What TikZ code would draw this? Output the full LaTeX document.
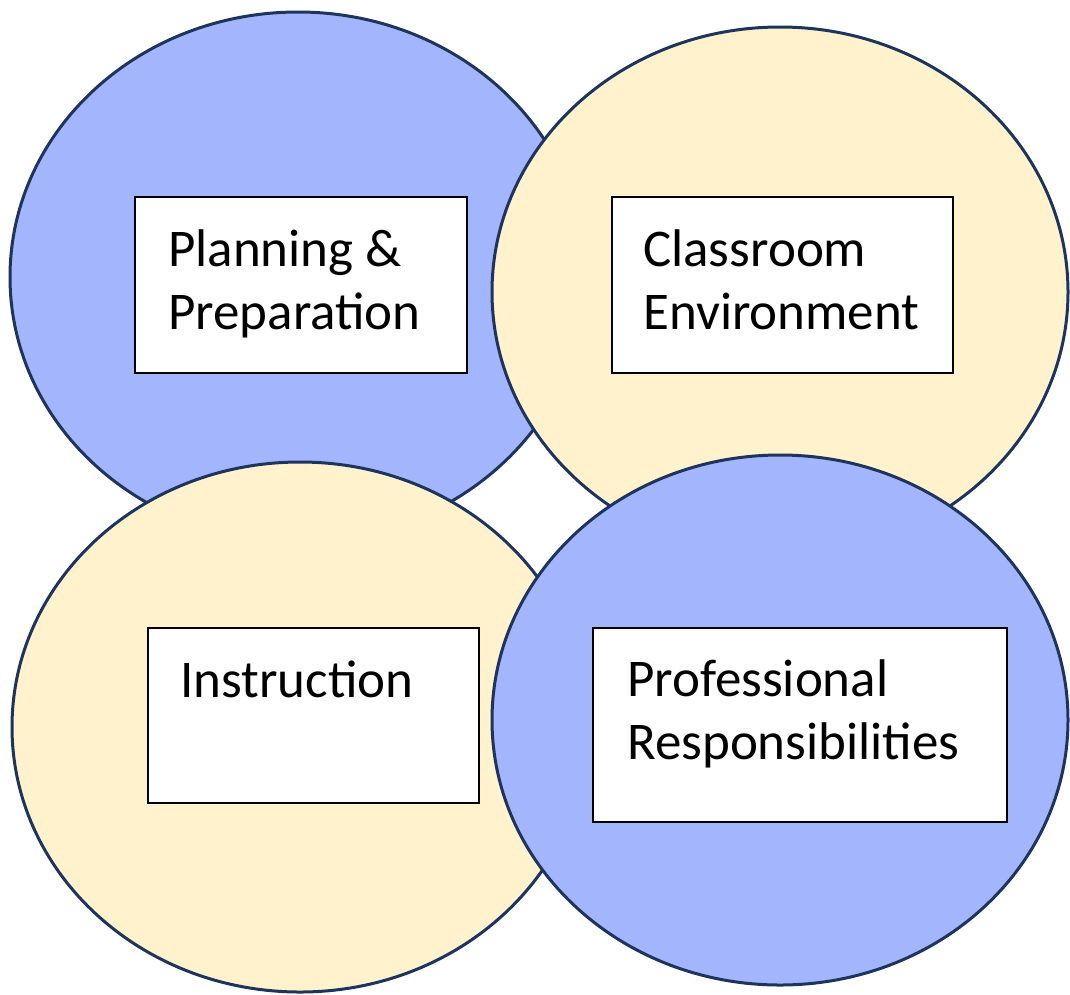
\documentclass[tikz,border=0pt]{standalone}
\usepackage{fontspec}
\setmainfont{Carlito}
\usetikzlibrary{shapes.geometric}
\definecolor{ringblue}{RGB}{163,181,252}
\definecolor{ringgold}{RGB}{255,242,204}
\definecolor{ringline}{RGB}{30,52,92}
\tikzset{
  ring/.style={ellipse, draw=ringline, line width=3pt, minimum width=576pt, minimum height=530pt, inner sep=0pt},
  bluering/.style={ring, fill=ringblue},
  goldring/.style={ring, fill=ringgold},
  labelbox/.style={rectangle, draw=black, line width=2pt, fill=white, inner sep=0pt},
  labeltext/.style={anchor=base west, inner sep=0pt, font=\fontsize{53pt}{63pt}\selectfont, text=black}
}
\begin{document}
\begin{tikzpicture}[x=1pt,y=-1pt]
\useasboundingbox (0,0) rectangle (1070,994);
\fill[white] (0,0) rectangle (1070,994);
\node[bluering] (c1) at (298,277) {};
\node[goldring] (c2) at (780,292) {};
\node[goldring] (c3) at (300,727) {};
\node[bluering] (c4) at (780,720) {};
\node[labelbox, minimum width=332pt, minimum height=176pt] (b1) at (300.5,284.7) {};
\node[labelbox, minimum width=341pt, minimum height=176pt] (b2) at (782.5,285) {};
\node[labelbox, minimum width=331pt, minimum height=175pt] (b3) at (313.5,715.5) {};
\node[labelbox, minimum width=414pt, minimum height=194pt] (b4) at (800.3,724.5) {};
\node[labeltext] (t1) at (168,266) {\vtop{\baselineskip=63pt\hbox{Planning \&}\hbox{Preparation}}};
\node[labeltext] (t2) at (643,266) {\vtop{\baselineskip=63pt\hbox{Classroom}\hbox{Environment}}};
\node[labeltext] (t3) at (180,697) {Instruction};
\node[labeltext] (t4) at (627,696) {\vtop{\baselineskip=63pt\hbox{Professional}\hbox{Responsibilities}}};
\end{tikzpicture}
\end{document}
